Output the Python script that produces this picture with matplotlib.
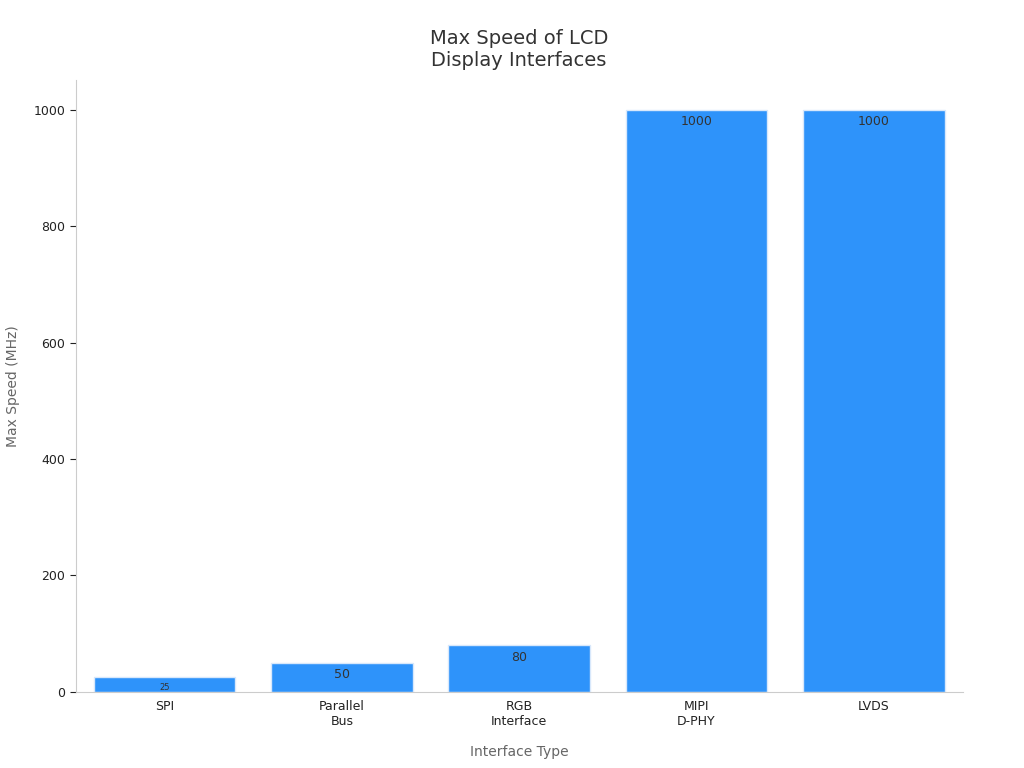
import matplotlib
matplotlib.use('Agg')
import matplotlib.pyplot as plt

categories = ["SPI", "Parallel\nBus", "RGB\nInterface", "MIPI\nD-PHY", "LVDS"]
speeds = [25, 50, 80, 1000, 1000]

fig = plt.figure(figsize=(10.24, 7.68), dpi=100)
ax = fig.add_axes([0.074, 0.099, 0.866, 0.797])

bars = ax.bar(range(len(categories)), speeds, width=0.8, color="#2E93FA",
              edgecolor="#d8e8fb", linewidth=1)

# value labels just inside the top of each bar
for b, v in zip(bars, speeds):
    fs = 6 if v < 30 else 9
    ax.annotate(str(v), (b.get_x() + b.get_width() / 2, v),
                xytext=(0, -4), textcoords="offset points",
                ha="center", va="top", fontsize=fs, color="#333333")

ax.set_xlim(-0.5, 4.5)
ax.set_ylim(0, 1051)
ax.set_xticks(range(len(categories)))
ax.set_xticklabels(categories, fontsize=9, color="#222222")
ax.set_yticks([0, 200, 400, 600, 800, 1000])
ax.tick_params(axis="y", labelsize=9, colors="#222222", length=4)
ax.tick_params(axis="x", length=0, pad=6)
for s in ["top", "right"]:
    ax.spines[s].set_visible(False)
for s in ["left", "bottom"]:
    ax.spines[s].set_color("#cccccc")

ax.set_xlabel("Interface Type", fontsize=10, color="#666666", labelpad=12)
ax.set_ylabel("Max Speed (MHz)", fontsize=10, color="#666666", labelpad=10)
ax.set_title("Max Speed of LCD\nDisplay Interfaces", fontsize=14, color="#333333", pad=10)

fig.savefig("out.png", dpi=100)
